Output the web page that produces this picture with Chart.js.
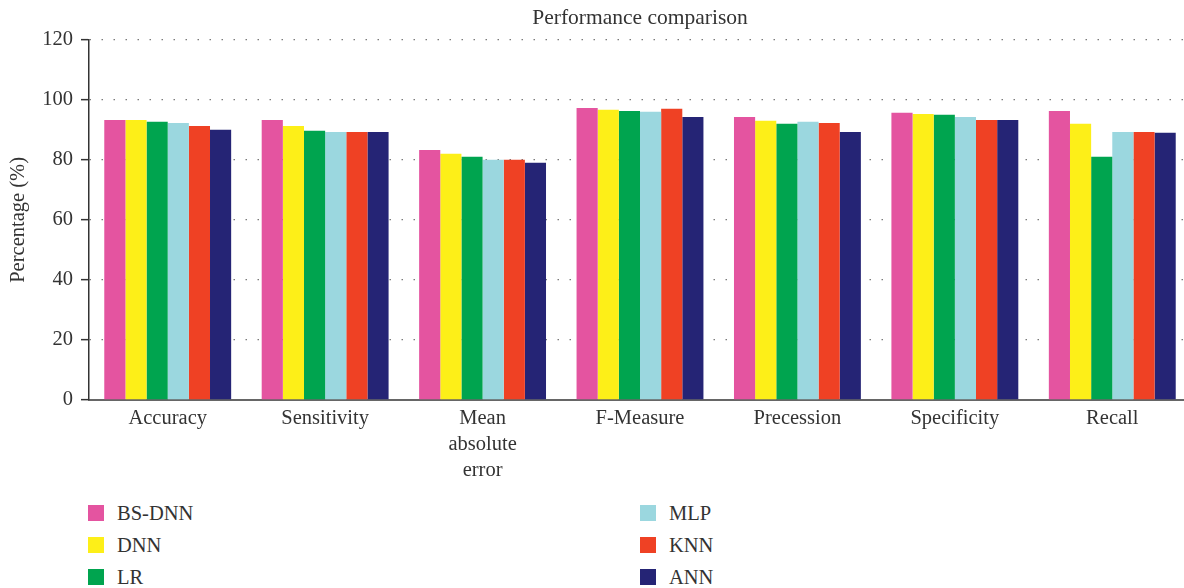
<!DOCTYPE html>
<html>
<head>
<meta charset="utf-8">
<script src="https://cdn.jsdelivr.net/npm/chart.js@4.4.1/dist/chart.umd.min.js"></script>
<style>
  html, body { margin: 0; padding: 0; background: #ffffff; overflow: hidden; width: 1184px; height: 588px; }
  #wrap { position: relative; width: 1184px; height: 588px; }
  #chart { position: absolute; left: 0; top: 0; }
  .legend { position: absolute; top: 497px; font-family: "Liberation Serif", "DejaVu Serif", serif; font-size: 20.5px; color: #333333; }
  .legend-item { display: flex; align-items: center; height: 32px; }
  .legend-item span.box { width: 16px; height: 16px; margin-right: 13px; }
</style>
</head>
<body>
<div id="wrap">
  <canvas id="chart" width="1196" height="490"></canvas>
  <div class="legend" id="legend-left" style="left: 88px;"></div>
  <div class="legend" id="legend-right" style="left: 640px;"></div>
</div>
<script>
  const categories = ["Accuracy", "Sensitivity", ["Mean", "absolute", "error"], "F-Measure", "Precession", "Specificity", "Recall"];
  const models = ["BS-DNN", "DNN", "LR", "MLP", "KNN", "ANN"];
  const colors = ["#e454a0", "#fdef18", "#00a44f", "#9bd7df", "#ef4124", "#252475"];

  const bsDnn = [93.3, 93.3, 83.3, 97.3, 94.3, 95.7, 96.3];
  const dnn   = [93.3, 91.3, 82.0, 96.7, 93.0, 95.3, 92.0];
  const lr    = [92.7, 89.7, 81.0, 96.3, 92.0, 95.0, 81.0];
  const mlp   = [92.3, 89.3, 80.0, 96.0, 92.7, 94.3, 89.3];
  const knn   = [91.3, 89.3, 80.0, 97.0, 92.3, 93.3, 89.3];
  const ann   = [90.0, 89.3, 79.0, 94.3, 89.3, 93.3, 89.0];
  const series = [bsDnn, dnn, lr, mlp, knn, ann];

  const yTicks = [0, 20, 40, 60, 80, 100, 120];

  const serif = "'Liberation Serif', 'DejaVu Serif', serif";
  const textColor = "#333333";

  new Chart(document.getElementById("chart"), {
    type: "bar",
    data: {
      labels: categories,
      datasets: models.map((name, i) => ({
        label: name,
        data: series[i],
        backgroundColor: colors[i],
        borderWidth: 0,
        categoryPercentage: 0.806,
        barPercentage: 1.0
      }))
    },
    options: {
      responsive: false,
      animation: false,
      devicePixelRatio: 1,
      layout: { padding: { left: 0, right: 5, top: 0, bottom: 0 } },
      plugins: {
        legend: { display: false },
        tooltip: { enabled: false },
        title: {
          display: true,
          fullSize: false,
          text: "Performance comparison",
          color: textColor,
          font: { family: serif, size: 21.5, weight: "normal" },
          padding: { top: 5, bottom: 9 }
        }
      },
      scales: {
        x: {
          grid: { display: false, drawTicks: false },
          border: { color: "#666666", width: 2 },
          ticks: {
            color: textColor,
            font: { family: serif, size: 20.5, lineHeight: 1.27 },
            maxRotation: 0,
            autoSkip: false,
            padding: 6
          },
          afterFit(scale) { scale.height = 90; }
        },
        y: {
          min: 0,
          max: 120,
          afterBuildTicks(scale) { scale.ticks = yTicks.map((v) => ({ value: v })); },
          grid: {
            color: "#7a7a7a",
            lineWidth: 1.3,
            tickColor: "#333333",
            tickWidth: 1.5,
            tickLength: 8,
            tickBorderDash: []
          },
          border: { color: "#333333", width: 1.5, dash: [1.5, 10.5] },
          ticks: {
            color: textColor,
            font: { family: serif, size: 20.5 },
            padding: 8
          },
          title: {
            display: true,
            text: "Percentage (%)",
            color: textColor,
            font: { family: serif, size: 20.5 },
            padding: { top: 6, bottom: 0 }
          },
          afterFit(scale) { scale.width = 89; }
        }
      }
    }
  });

  // two-column legend, three rows each
  models.forEach((name, i) => {
    const item = document.createElement("div");
    item.className = "legend-item";
    const box = document.createElement("span");
    box.className = "box";
    box.style.background = colors[i];
    const label = document.createElement("span");
    label.textContent = name;
    item.append(box, label);
    document.getElementById(i < 3 ? "legend-left" : "legend-right").append(item);
  });
</script>
</body>
</html>
